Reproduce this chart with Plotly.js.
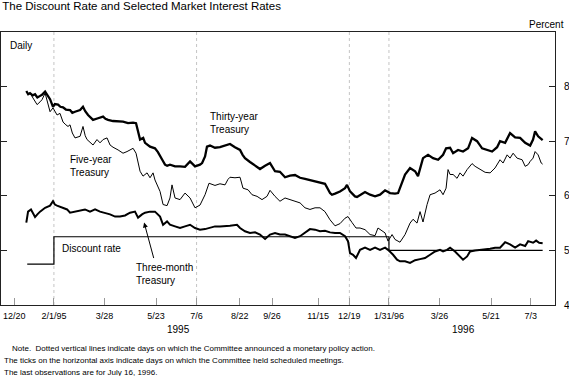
<!DOCTYPE html>
<html>
<head>
<meta charset="utf-8">
<script src="https://cdn.plot.ly/plotly-3.0.1.min.js"></script>
<style>html,body{margin:0;padding:0;background:#fff;}#chart{width:569px;height:376px;}</style>
</head>
<body>
<div id="chart"></div>
<script>
// Days are counted from 1994-12-20 (first scheduled meeting on the axis)
const thirtyDays = [13,15,17,20,22.5,25,28,30,33.4,36,38.8,42,44,47.5,50,52.9,56,60.5,63,65.9,71.4,74.6,77,80.1,85.5,90.9,96.4,99,101.8,107.2,112.7,118.1,123.5,129,132.2,134,136.6,140,142,147.4,152.8,156,158.3,161,163.7,166,169.1,174.6,180,185.4,190.9,196.3,201.7,204,207.2,209.3,212.6,218,223.4,228.9,234.3,239.7,245.2,248,250.6,256,261.5,266.9,272.4,277.8,283.2,288.6,294.1,299.5,304.9,310.4,315.8,321.2,326.7,332.1,337.5,343,345.1,348.4,353.8,359.3,361.4,364.7,370.1,372.3,375.6,381,386.5,391.9,397.3,402.8,408.2,413.6,416.9,419,421.2,424.5,429.9,435.4,438.6,444,449.5,454.9,460.4,465.8,469.1,473.4,476.7,482.1,487.5,493,497.3,502.7,508.2,513.6,519.1,524.5,527.7,533.2,538.6,544.1,549.5,555,560.4,563.6,565.8,569.1,572.4,574];
const thirtyVals = [7.92,7.86,7.88,7.84,7.86,7.80,7.83,7.85,7.91,7.84,7.77,7.63,7.68,7.67,7.63,7.62,7.58,7.57,7.52,7.54,7.57,7.63,7.55,7.48,7.39,7.42,7.45,7.41,7.39,7.37,7.37,7.36,7.33,7.34,7.33,7.20,7.03,7.06,6.97,6.90,6.87,6.80,6.72,6.65,6.57,6.55,6.57,6.54,6.54,6.53,6.63,6.54,6.57,6.60,6.72,6.90,6.92,6.88,6.89,6.92,6.95,6.89,6.84,6.75,6.69,6.62,6.56,6.49,6.55,6.60,6.45,6.44,6.34,6.37,6.38,6.33,6.31,6.29,6.26,6.25,6.22,6.05,6.02,6.04,6.08,6.14,6.20,6.08,5.99,5.98,6.02,6.07,6.02,5.99,6.02,6.10,6.05,6.04,6.05,6.14,6.24,6.39,6.51,6.45,6.36,6.69,6.75,6.69,6.66,6.75,6.87,6.88,6.78,6.84,6.81,6.87,7.06,7.00,6.87,6.84,6.81,6.89,7.00,6.97,7.15,7.07,7.06,6.97,6.92,7.03,7.18,7.09,7.03,7.02];

const fiveDays = [13,15,17,20,24.7,27.9,30.1,33.4,36,38.8,42,46.4,49.6,52.9,56,58.3,60.5,63,65.9,71.4,74.6,77,79,82,85.5,89.8,93.1,96.4,100.7,104,107.2,112.7,118.1,122.4,129,132.2,134.4,136.6,139.8,144.2,147.4,150.7,152.8,158.3,161.6,165.9,169.1,171.3,174.6,180,185.4,190.9,196.3,201.7,207.2,211.5,218,223.4,228.9,232.1,234.3,239.7,245.2,248.4,253.9,258.2,263.7,269.1,274.5,277.8,283.2,288.6,294.1,299.5,304.9,310.4,315.8,321.2,326.7,332.1,337.5,343,348.4,353.8,359.3,362.5,366.9,371.2,375.6,381,386.5,391.9,395.1,399.5,402.8,406,410.4,413.6,419,424.5,429.9,433.2,437.5,440.8,444,448.4,451.7,457.1,462.5,465.8,469.1,471.2,473.4,476.7,481,484.2,487.5,491.9,497.3,500.6,506,511.5,516.9,522.3,527.7,531,535.4,538.6,541.9,546.2,551.7,555,558.2,560.4,563.6,565.8,569.1,572.4,574];
const fiveVals = [7.92,7.86,7.88,7.80,7.67,7.72,7.76,7.88,7.70,7.54,7.61,7.48,7.51,7.35,7.30,7.27,7.30,7.15,7.06,7.09,7.27,7.10,7.03,6.98,6.93,7.03,6.97,7.03,7.06,6.93,6.89,6.84,6.78,6.81,6.87,6.78,6.60,6.45,6.36,6.42,6.33,6.42,6.29,6.08,5.84,5.82,5.96,6.20,5.96,5.93,6.05,5.96,5.78,5.83,6.02,6.23,6.19,6.22,6.20,6.30,6.34,6.33,6.34,6.14,6.11,6.02,5.99,5.93,5.99,6.10,5.99,5.90,5.96,5.93,5.90,5.87,5.78,5.75,5.78,5.78,5.71,5.56,5.45,5.49,5.59,5.62,5.51,5.41,5.41,5.38,5.29,5.27,5.41,5.35,5.32,5.17,5.29,5.20,5.15,5.29,5.50,5.57,5.50,5.71,5.52,5.84,6.02,6.05,6.11,6.02,6.14,6.48,6.39,6.39,6.32,6.42,6.36,6.48,6.59,6.54,6.48,6.43,6.42,6.51,6.66,6.60,6.75,6.69,6.78,6.69,6.66,6.54,6.57,6.63,6.69,6.81,6.75,6.60,6.58];

const threeDays = [13,14.9,18.1,20,22.5,25,27.9,33.4,38.8,42,44,46.4,51.8,57.3,60.5,65.9,71.4,76.8,82.2,87.7,93.1,98.5,104,109.4,114.8,120.3,125.7,131.1,134.4,138.7,142,147.4,152.8,158.3,161.6,165.9,169.1,174.6,180,185.4,190.9,196.3,201.7,207.2,212.6,218,223.4,228.9,234.3,241.9,245.2,250.6,256,261.5,266.9,272.4,277.8,283.2,288.6,294.1,299.5,304.9,310.4,315.8,321.2,326.7,332.1,337.5,343,348.4,353.8,359.3,362.5,364.7,368,371.2,375.6,381,386.5,391.9,397.3,402.8,406,411.5,415.8,419,424.5,429.9,435.4,440.8,446.2,451.7,457.1,462.5,465.8,470.1,473.4,478.8,484.2,487.5,491.9,495.1,500.6,506,511.5,516.9,522.3,527.7,533.2,538.6,544.1,549.5,555,558.2,563.6,566.9,570.2,574];
const threeVals = [5.51,5.71,5.75,5.68,5.61,5.66,5.71,5.78,5.82,5.90,5.84,5.82,5.78,5.75,5.69,5.71,5.73,5.75,5.71,5.75,5.71,5.69,5.66,5.62,5.62,5.64,5.69,5.71,5.60,5.66,5.69,5.71,5.71,5.62,5.47,5.53,5.47,5.44,5.41,5.44,5.47,5.41,5.38,5.39,5.41,5.44,5.44,5.44,5.45,5.47,5.41,5.35,5.32,5.33,5.29,5.21,5.29,5.32,5.29,5.29,5.26,5.23,5.26,5.33,5.39,5.38,5.35,5.36,5.33,5.32,5.32,5.26,5.17,4.95,4.92,4.86,5.01,5.05,5.01,5.05,5.01,5.05,5.01,4.92,4.83,4.80,4.80,4.77,4.82,4.84,4.86,4.92,4.98,5.01,4.98,5.01,5.05,4.98,4.89,4.83,4.89,4.98,5.00,5.01,5.01,5.03,5.05,5.05,5.15,5.11,5.05,5.11,5.08,5.17,5.14,5.18,5.14,5.13];

const discountDates = ['1995-01-03','1995-02-01','1996-01-31','1996-07-16'];
const discountVals = [4.75, 5.25, 5.00, 5.00];

const meetingDates = ['1994-12-20','1995-02-01','1995-03-28','1995-05-23','1995-07-06','1995-08-22','1995-09-26','1995-11-15','1995-12-19','1996-01-31','1996-03-26','1996-05-21','1996-07-03'];
const meetingLabels = ['12/20','2/1/95','3/28','5/23','7/6','8/22','9/26','11/15','12/19','1/31/96','3/26','5/21','7/3'];
const policyDates = ['1995-02-01','1995-07-06','1995-12-19','1996-01-31'];
const yTicks = [4,5,6,7,8];

const base = Date.UTC(1994, 11, 20);
function toDate(d) {
  const t = new Date(base + Math.round(d * 24) * 3600000);
  return t.toISOString().slice(0, 13).replace('T', ' ') + ':00';
}

const FONT = 'Liberation Sans, Arial, Helvetica, sans-serif';

const traces = [
  {x: discountDates, y: discountVals, type: 'scatter', mode: 'lines', line: {color: '#000', width: 1.2, shape: 'hv'}, hoverinfo: 'skip'},
  {x: fiveDays.map(toDate), y: fiveVals, type: 'scatter', mode: 'lines', line: {color: '#000', width: 1}, hoverinfo: 'skip'},
  {x: threeDays.map(toDate), y: threeVals, type: 'scatter', mode: 'lines', line: {color: '#000', width: 2}, hoverinfo: 'skip'},
  {x: thirtyDays.map(toDate), y: thirtyVals, type: 'scatter', mode: 'lines', line: {color: '#000', width: 2.3}, hoverinfo: 'skip'}
];

const shapes = policyDates.map(d => ({
  type: 'line', xref: 'x', yref: 'paper', x0: d, x1: d, y0: 0, y1: 1,
  line: {color: '#c4c4c4', width: 1, dash: 'dot'}, layer: 'below'
}));

const ann = (o) => Object.assign({showarrow: false, font: {family: FONT, size: 10, color: '#000'}, align: 'left'}, o);

const annotations = [
  ann({xref: 'paper', yref: 'paper', x: 0.0126, y: 0.952, xanchor: 'left', yanchor: 'middle', text: 'Daily'}),
  ann({xref: 'paper', yref: 'paper', x: 1.0199, y: 1.029, xanchor: 'right', yanchor: 'middle', text: 'Percent'}),
  ann({xref: 'x', yref: 'y', x: '1995-07-18', y: 7.34, xanchor: 'left', yanchor: 'middle', text: 'Thirty-year<br>Treasury'}),
  ann({xref: 'x', yref: 'y', x: '1995-02-16', y: 6.55, xanchor: 'left', yanchor: 'middle', text: 'Five-year<br>Treasury'}),
  ann({xref: 'x', yref: 'y', x: '1995-02-08', y: 5.03, xanchor: 'left', yanchor: 'middle', text: 'Discount rate'}),
  ann({xref: 'x', yref: 'y', x: '1995-04-29', y: 4.56, xanchor: 'left', yanchor: 'middle', text: 'Three-month<br>Treasury'}),
  {xref: 'x', yref: 'y', x: '1995-05-10', y: 5.51, text: '', showarrow: true, ax: 10, ay: 37, arrowhead: 2, arrowsize: 1, arrowwidth: 1, arrowcolor: '#000'},
  ann({xref: 'paper', yref: 'paper', x: 0.3195, y: -0.0896, xanchor: 'center', yanchor: 'middle', text: '1995'}),
  ann({xref: 'paper', yref: 'paper', x: 0.8357, y: -0.0896, xanchor: 'center', yanchor: 'middle', text: '1996'}),
  ann({xref: 'paper', yref: 'paper', x: 0.016, y: -0.159, xanchor: 'left', yanchor: 'middle', font: {family: FONT, size: 8, color: '#000'}, text: 'Note.  Dotted vertical lines indicate days on which the Committee announced a monetary policy action.'}),
  ann({xref: 'paper', yref: 'paper', x: 0.0018, y: -0.203, xanchor: 'left', yanchor: 'middle', font: {family: FONT, size: 8, color: '#000'}, text: 'The ticks on the horizontal axis indicate days on which the Committee held scheduled meetings.'}),
  ann({xref: 'paper', yref: 'paper', x: 0.0018, y: -0.247, xanchor: 'left', yanchor: 'middle', font: {family: FONT, size: 8, color: '#000'}, text: 'The last observations are for July 16, 1996.'})
];

const layout = {
  width: 569, height: 376,
  margin: {l: 1, r: 14, t: 32, b: 71},
  paper_bgcolor: '#fff', plot_bgcolor: '#fff',
  showlegend: false,
  font: {family: FONT, size: 10, color: '#000'},
  title: {text: 'The Discount Rate and Selected Market Interest Rates', xref: 'container', yref: 'container', x: 0.004, xanchor: 'left', y: 0.995, yanchor: 'top', font: {family: FONT, size: 11.5, color: '#000'}},
  xaxis: {
    type: 'date', range: ['1994-12-05 12:00', '1996-07-29 10:00'],
    tickmode: 'array', tickvals: meetingDates, ticktext: meetingLabels,
    ticks: 'inside', ticklen: 7, tickcolor: '#999', tickwidth: 1,
    showline: true, linecolor: '#222', linewidth: 1, mirror: true,
    showgrid: false, zeroline: false,
    tickfont: {family: FONT, size: 9, color: '#000'}, ticklabelstandoff: 2
  },
  yaxis: {
    range: [4, 9], side: 'right', tickmode: 'array', tickvals: yTicks,
    ticks: 'inside', ticklen: 6, tickcolor: '#222', tickwidth: 1,
    showline: true, linecolor: '#222', linewidth: 1, mirror: 'ticks',
    showgrid: false, zeroline: false,
    tickfont: {family: FONT, size: 10, color: '#000'}, ticklabelstandoff: 6
  },
  shapes: shapes,
  annotations: annotations
};

Plotly.newPlot('chart', traces, layout, {staticPlot: true, displayModeBar: false});
</script>
</body>
</html>
